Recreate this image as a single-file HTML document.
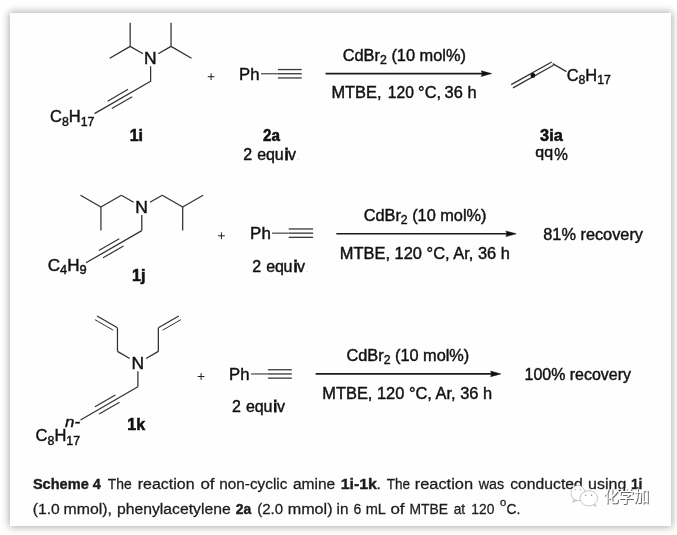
<!DOCTYPE html>
<html lang="en"><head><meta charset="utf-8"><title>Scheme 4</title>
<style>
html,body{margin:0;padding:0;background:#fff;}
body{width:677px;height:535px;overflow:hidden;position:relative;}
.card{position:absolute;left:10px;top:13px;width:661px;height:513px;background:#fefefe;box-shadow:0 0 8px 1px rgba(0,0,0,0.33);}
svg{position:absolute;left:0;top:0;font-family:'Liberation Sans', sans-serif;}
svg text{white-space:pre;}
</style></head>
<body>
<div class="card"></div>
<svg width="677" height="535" viewBox="0 0 677 535" style="filter:blur(0.5px)">
<line x1="130.16" y1="46.40" x2="130.16" y2="22.80" stroke="#303030" stroke-width="1.25"/>
<line x1="130.16" y1="46.40" x2="109.72" y2="58.20" stroke="#303030" stroke-width="1.25"/>
<line x1="130.16" y1="46.40" x2="143.00" y2="53.80" stroke="#303030" stroke-width="1.25"/>
<line x1="171.04" y1="46.40" x2="171.04" y2="22.80" stroke="#303030" stroke-width="1.25"/>
<line x1="171.04" y1="46.40" x2="191.48" y2="58.20" stroke="#303030" stroke-width="1.25"/>
<line x1="171.04" y1="46.40" x2="158.20" y2="53.80" stroke="#303030" stroke-width="1.25"/>
<text x="144.10" y="63.80" textLength="12.60" lengthAdjust="spacingAndGlyphs" style="font-size:16px;" fill="#111" stroke="#111" stroke-width="0.42" >N</text>
<line x1="150.60" y1="66.20" x2="150.60" y2="81.80" stroke="#303030" stroke-width="1.25"/>
<line x1="150.60" y1="81.20" x2="94.50" y2="113.59" stroke="#303030" stroke-width="1.25"/>
<line x1="128.06" y1="89.36" x2="107.62" y2="101.16" stroke="#333" stroke-width="1.15"/>
<line x1="132.26" y1="96.64" x2="111.82" y2="108.44" stroke="#333" stroke-width="1.15"/>
<text x="50.10" y="122.10" textLength="44.40" lengthAdjust="spacingAndGlyphs" style="font-size:16px;" fill="#111" stroke="#111" stroke-width="0.42" >C<tspan dy="4.0" style="font-size:12px">8</tspan><tspan dy="-4.0">H</tspan><tspan dy="4.0" style="font-size:12px">17</tspan></text>
<text x="129.70" y="141.10" textLength="13.40" lengthAdjust="spacingAndGlyphs" style="font-size:16px;font-weight:bold;" fill="#111" stroke="#111" stroke-width="0.55" >1i</text>
<line x1="207.70" y1="76.70" x2="214.50" y2="76.70" stroke="#222" stroke-width="1.0"/>
<line x1="211.10" y1="73.30" x2="211.10" y2="80.10" stroke="#222" stroke-width="1.0"/>
<text x="239.10" y="79.70" textLength="20.40" lengthAdjust="spacingAndGlyphs" style="font-size:16px;" fill="#111" stroke="#111" stroke-width="0.42" >Ph</text>
<line x1="261.00" y1="73.75" x2="277.90" y2="73.75" stroke="#3c3c3c" stroke-width="1.15"/>
<line x1="277.90" y1="73.75" x2="301.70" y2="73.75" stroke="#333" stroke-width="1.3"/>
<line x1="277.90" y1="69.55" x2="301.70" y2="69.55" stroke="#383838" stroke-width="1.3"/>
<line x1="277.90" y1="77.95" x2="301.70" y2="77.95" stroke="#383838" stroke-width="1.3"/>
<text x="263.10" y="141.00" textLength="16.90" lengthAdjust="spacingAndGlyphs" style="font-size:16px;font-weight:bold;" fill="#111" stroke="#111" stroke-width="0.55" >2a</text>
<text x="243.30 251.70 257.30 266.00 274.70 284.80 288.10" y="160.00" style="font-size:16px" fill="#111" stroke="#111" stroke-width="0.42">2 equ<tspan stroke-width="1.1">i</tspan>v</text>
<text x="296.90" y="160.00" style="font-size:9px" fill="#ccc">.</text>
<text x="342.70" y="60.60" textLength="123.30" lengthAdjust="spacingAndGlyphs" style="font-size:16px;" fill="#111" stroke="#111" stroke-width="0.42" >CdBr<tspan dy="3.0" style="font-size:12px">2</tspan><tspan dy="-3.0"> (10 mol%)</tspan></text>
<line x1="325.60" y1="73.60" x2="483.30" y2="73.60" stroke="#1a1a1a" stroke-width="1.6"/>
<path d="M491.60,73.60 L481.30,70.80 L482.30,73.60 L481.30,76.40 Z" fill="#111" stroke="#111" stroke-width="0.5" stroke-linejoin="round"/>
<text x="331.40" y="97.80" textLength="50.10" lengthAdjust="spacingAndGlyphs" style="font-size:16px;" fill="#111" stroke="#111" stroke-width="0.42" >MTBE,</text>
<text x="387.80" y="97.80" textLength="26.10" lengthAdjust="spacingAndGlyphs" style="font-size:16px;" fill="#111" stroke="#111" stroke-width="0.42" >120</text>
<text x="418.10" y="97.80" textLength="22.90" lengthAdjust="spacingAndGlyphs" style="font-size:16px;" fill="#111" stroke="#111" stroke-width="0.42" >°C,</text>
<text x="444.60" y="97.80" textLength="31.90" lengthAdjust="spacingAndGlyphs" style="font-size:16px;" fill="#111" stroke="#111" stroke-width="0.42" >36 h</text>
<line x1="511.20" y1="84.60" x2="551.70" y2="62.00" stroke="#303030" stroke-width="1.25"/>
<line x1="513.00" y1="87.90" x2="553.50" y2="65.30" stroke="#303030" stroke-width="1.25"/>
<circle cx="532.9" cy="75.5" r="2.4" fill="#111"/>
<line x1="552.60" y1="63.60" x2="566.50" y2="71.60" stroke="#303030" stroke-width="1.25"/>
<text x="566.70" y="80.60" textLength="44.20" lengthAdjust="spacingAndGlyphs" style="font-size:16px;" fill="#111" stroke="#111" stroke-width="0.42" >C<tspan dy="3.5" style="font-size:12px">8</tspan><tspan dy="-3.5">H</tspan><tspan dy="3.5" style="font-size:12px">17</tspan></text>
<text x="540.10" y="141.00" textLength="22.60" lengthAdjust="spacingAndGlyphs" style="font-size:16px;font-weight:bold;" fill="#111" stroke="#111" stroke-width="0.55" >3ia</text>
<text x="535.30" y="157.30" textLength="17.80" lengthAdjust="spacingAndGlyphs" style="font-size:14.4px;" fill="#111" stroke="#111" stroke-width="0.42" >qq</text>
<text x="554.30" y="160.30" textLength="13.60" lengthAdjust="spacingAndGlyphs" style="font-size:16px;" fill="#111" stroke="#111" stroke-width="0.42" >%</text>
<line x1="133.60" y1="202.30" x2="121.36" y2="195.20" stroke="#303030" stroke-width="1.25"/>
<line x1="121.36" y1="195.20" x2="100.92" y2="207.00" stroke="#303030" stroke-width="1.25"/>
<line x1="100.92" y1="207.00" x2="80.49" y2="195.20" stroke="#303030" stroke-width="1.25"/>
<line x1="100.92" y1="207.00" x2="100.92" y2="230.60" stroke="#303030" stroke-width="1.25"/>
<line x1="150.00" y1="202.30" x2="162.24" y2="195.20" stroke="#303030" stroke-width="1.25"/>
<line x1="162.24" y1="195.20" x2="182.68" y2="207.00" stroke="#303030" stroke-width="1.25"/>
<line x1="182.68" y1="207.00" x2="203.11" y2="195.20" stroke="#303030" stroke-width="1.25"/>
<line x1="182.68" y1="207.00" x2="182.68" y2="230.60" stroke="#303030" stroke-width="1.25"/>
<text x="135.30" y="212.70" textLength="12.60" lengthAdjust="spacingAndGlyphs" style="font-size:16px;" fill="#111" stroke="#111" stroke-width="0.42" >N</text>
<line x1="141.80" y1="215.00" x2="141.80" y2="230.60" stroke="#303030" stroke-width="1.25"/>
<line x1="141.80" y1="230.60" x2="86.00" y2="262.82" stroke="#303030" stroke-width="1.25"/>
<line x1="119.26" y1="238.76" x2="98.82" y2="250.56" stroke="#333" stroke-width="1.15"/>
<line x1="123.46" y1="246.04" x2="103.02" y2="257.84" stroke="#333" stroke-width="1.15"/>
<text x="47.80" y="270.50" textLength="38.90" lengthAdjust="spacingAndGlyphs" style="font-size:16px;" fill="#111" stroke="#111" stroke-width="0.42" >C<tspan dy="3.3" style="font-size:12px">4</tspan><tspan dy="-3.3">H</tspan><tspan dy="3.3" style="font-size:12px">9</tspan></text>
<text x="132.00" y="280.50" textLength="13.40" lengthAdjust="spacingAndGlyphs" style="font-size:16px;font-weight:bold;" fill="#111" stroke="#111" stroke-width="0.55" >1j</text>
<line x1="218.00" y1="235.80" x2="224.80" y2="235.80" stroke="#222" stroke-width="1.0"/>
<line x1="221.40" y1="232.40" x2="221.40" y2="239.20" stroke="#222" stroke-width="1.0"/>
<text x="250.10" y="239.10" textLength="20.70" lengthAdjust="spacingAndGlyphs" style="font-size:16px;" fill="#111" stroke="#111" stroke-width="0.42" >Ph</text>
<line x1="272.10" y1="233.15" x2="288.70" y2="233.15" stroke="#3c3c3c" stroke-width="1.15"/>
<line x1="288.70" y1="233.15" x2="313.10" y2="233.15" stroke="#333" stroke-width="1.3"/>
<line x1="288.70" y1="228.95" x2="313.10" y2="228.95" stroke="#383838" stroke-width="1.3"/>
<line x1="288.70" y1="237.35" x2="313.10" y2="237.35" stroke="#383838" stroke-width="1.3"/>
<text x="252.20 260.60 266.20 274.90 283.60 293.70 297.00" y="271.70" style="font-size:16px" fill="#111" stroke="#111" stroke-width="0.42">2 equ<tspan stroke-width="1.1">i</tspan>v</text>
<text x="305.80" y="271.70" style="font-size:9px" fill="#ccc">.</text>
<text x="363.70" y="221.40" textLength="122.80" lengthAdjust="spacingAndGlyphs" style="font-size:16px;" fill="#111" stroke="#111" stroke-width="0.42" >CdBr<tspan dy="3.0" style="font-size:12px">2</tspan><tspan dy="-3.0"> (10 mol%)</tspan></text>
<line x1="336.30" y1="233.80" x2="507.90" y2="233.80" stroke="#1a1a1a" stroke-width="1.6"/>
<path d="M516.20,233.80 L505.90,231.00 L506.90,233.80 L505.90,236.60 Z" fill="#111" stroke="#111" stroke-width="0.5" stroke-linejoin="round"/>
<text x="339.80" y="259.00" textLength="170.10" lengthAdjust="spacingAndGlyphs" style="font-size:16px;" fill="#111" stroke="#111" stroke-width="0.42" >MTBE, 120 °C, Ar, 36 h</text>
<text x="543.30" y="240.20" textLength="99.70" lengthAdjust="spacingAndGlyphs" style="font-size:16px;" fill="#111" stroke="#111" stroke-width="0.42" >81% recovery</text>
<line x1="129.70" y1="358.50" x2="117.46" y2="351.40" stroke="#303030" stroke-width="1.25"/>
<line x1="117.46" y1="351.40" x2="117.46" y2="327.80" stroke="#303030" stroke-width="1.25"/>
<line x1="117.46" y1="327.80" x2="97.02" y2="316.00" stroke="#303030" stroke-width="1.25"/>
<line x1="113.20" y1="330.19" x2="94.92" y2="319.64" stroke="#303030" stroke-width="1.0"/>
<line x1="146.10" y1="358.50" x2="158.34" y2="351.40" stroke="#303030" stroke-width="1.25"/>
<line x1="158.34" y1="351.40" x2="158.34" y2="327.80" stroke="#303030" stroke-width="1.25"/>
<line x1="158.34" y1="327.80" x2="178.78" y2="316.00" stroke="#303030" stroke-width="1.25"/>
<line x1="162.60" y1="330.19" x2="180.88" y2="319.64" stroke="#303030" stroke-width="1.0"/>
<text x="131.40" y="368.90" textLength="12.60" lengthAdjust="spacingAndGlyphs" style="font-size:16px;" fill="#111" stroke="#111" stroke-width="0.42" >N</text>
<line x1="137.90" y1="371.20" x2="137.90" y2="386.80" stroke="#303030" stroke-width="1.25"/>
<line x1="137.90" y1="386.80" x2="80.50" y2="419.94" stroke="#303030" stroke-width="1.25"/>
<line x1="115.36" y1="394.96" x2="94.92" y2="406.76" stroke="#333" stroke-width="1.15"/>
<line x1="119.56" y1="402.24" x2="99.12" y2="414.04" stroke="#333" stroke-width="1.15"/>
<text x="65.00" y="427.00" textLength="15.10" lengthAdjust="spacingAndGlyphs" style="font-size:15px;font-style:italic;" fill="#111" stroke="#111" stroke-width="0.42" >n-</text>
<text x="35.60" y="441.00" textLength="44.50" lengthAdjust="spacingAndGlyphs" style="font-size:16px;" fill="#111" stroke="#111" stroke-width="0.42" >C<tspan dy="3.8" style="font-size:12px">8</tspan><tspan dy="-3.8">H</tspan><tspan dy="3.8" style="font-size:12px">17</tspan></text>
<text x="127.30" y="430.20" textLength="17.80" lengthAdjust="spacingAndGlyphs" style="font-size:16px;font-weight:bold;" fill="#111" stroke="#111" stroke-width="0.55" >1k</text>
<line x1="197.70" y1="376.50" x2="204.50" y2="376.50" stroke="#222" stroke-width="1.0"/>
<line x1="201.10" y1="373.10" x2="201.10" y2="379.90" stroke="#222" stroke-width="1.0"/>
<text x="229.10" y="379.80" textLength="20.40" lengthAdjust="spacingAndGlyphs" style="font-size:16px;" fill="#111" stroke="#111" stroke-width="0.42" >Ph</text>
<line x1="251.10" y1="373.95" x2="267.90" y2="373.95" stroke="#3c3c3c" stroke-width="1.15"/>
<line x1="267.90" y1="373.95" x2="291.80" y2="373.95" stroke="#333" stroke-width="1.3"/>
<line x1="267.90" y1="369.75" x2="291.80" y2="369.75" stroke="#383838" stroke-width="1.3"/>
<line x1="267.90" y1="378.15" x2="291.80" y2="378.15" stroke="#383838" stroke-width="1.3"/>
<text x="232.10 240.50 246.10 254.80 263.50 273.60 276.90" y="412.20" style="font-size:16px" fill="#111" stroke="#111" stroke-width="0.42">2 equ<tspan stroke-width="1.1">i</tspan>v</text>
<text x="285.70" y="412.20" style="font-size:9px" fill="#ccc">.</text>
<text x="346.50" y="361.40" textLength="122.80" lengthAdjust="spacingAndGlyphs" style="font-size:16px;" fill="#111" stroke="#111" stroke-width="0.42" >CdBr<tspan dy="3.0" style="font-size:12px">2</tspan><tspan dy="-3.0"> (10 mol%)</tspan></text>
<line x1="315.60" y1="373.90" x2="492.60" y2="373.90" stroke="#1a1a1a" stroke-width="1.6"/>
<path d="M500.90,373.90 L490.60,371.10 L491.60,373.90 L490.60,376.70 Z" fill="#111" stroke="#111" stroke-width="0.5" stroke-linejoin="round"/>
<text x="322.30" y="399.10" textLength="169.80" lengthAdjust="spacingAndGlyphs" style="font-size:16px;" fill="#111" stroke="#111" stroke-width="0.42" >MTBE, 120 °C, Ar, 36 h</text>
<text x="524.50" y="379.80" textLength="106.50" lengthAdjust="spacingAndGlyphs" style="font-size:16px;" fill="#111" stroke="#111" stroke-width="0.42" >100% recovery</text>
<text x="32.92" y="489.30" textLength="67.96" lengthAdjust="spacingAndGlyphs" style="font-size:15.4px;font-weight:bold;" fill="#1c1c1c" stroke="#1c1c1c" stroke-width="0.4">Scheme 4</text>
<text x="107.82" y="489.30" textLength="23.98" lengthAdjust="spacingAndGlyphs" style="font-size:15.4px;" fill="#1c1c1c" stroke="#1c1c1c" stroke-width="0.28">The</text>
<text x="137.76" y="489.30" textLength="56.78" lengthAdjust="spacingAndGlyphs" style="font-size:15.4px;" fill="#1c1c1c" stroke="#1c1c1c" stroke-width="0.28">reaction</text>
<text x="200.43" y="489.30" textLength="14.13" lengthAdjust="spacingAndGlyphs" style="font-size:15.4px;" fill="#1c1c1c" stroke="#1c1c1c" stroke-width="0.28">of</text>
<text x="219.30" y="489.30" textLength="68.10" lengthAdjust="spacingAndGlyphs" style="font-size:15.4px;" fill="#1c1c1c" stroke="#1c1c1c" stroke-width="0.28">non-cyclic</text>
<text x="292.94" y="489.30" textLength="42.32" lengthAdjust="spacingAndGlyphs" style="font-size:15.4px;" fill="#1c1c1c" stroke="#1c1c1c" stroke-width="0.28">amine</text>
<text x="340.70" y="489.30" textLength="36.30" lengthAdjust="spacingAndGlyphs" style="font-size:15.4px;font-weight:bold;" fill="#1c1c1c" stroke="#1c1c1c" stroke-width="0.4">1i-1k</text>
<text x="376.60" y="489.30" textLength="4.30" lengthAdjust="spacingAndGlyphs" style="font-size:15.4px;" fill="#1c1c1c" stroke="#1c1c1c" stroke-width="0.28">.</text>
<text x="386.80" y="489.30" textLength="23.35" lengthAdjust="spacingAndGlyphs" style="font-size:15.4px;" fill="#1c1c1c" stroke="#1c1c1c" stroke-width="0.28">The</text>
<text x="414.66" y="489.30" textLength="58.46" lengthAdjust="spacingAndGlyphs" style="font-size:15.4px;" fill="#1c1c1c" stroke="#1c1c1c" stroke-width="0.28">reaction</text>
<text x="478.74" y="489.30" textLength="25.40" lengthAdjust="spacingAndGlyphs" style="font-size:15.4px;" fill="#1c1c1c" stroke="#1c1c1c" stroke-width="0.28">was</text>
<text x="510.24" y="489.30" textLength="72.54" lengthAdjust="spacingAndGlyphs" style="font-size:15.4px;" fill="#1c1c1c" stroke="#1c1c1c" stroke-width="0.28">conducted</text>
<text x="588.12" y="489.30" textLength="38.22" lengthAdjust="spacingAndGlyphs" style="font-size:15.4px;" fill="#1c1c1c" stroke="#1c1c1c" stroke-width="0.28">using</text>
<text x="630.89" y="489.30" textLength="11.56" lengthAdjust="spacingAndGlyphs" style="font-size:15.4px;font-weight:bold;" fill="#1c1c1c" stroke="#1c1c1c" stroke-width="0.4">1i</text>
<text x="32.84" y="513.70" textLength="27.00" lengthAdjust="spacingAndGlyphs" style="font-size:15.4px;" fill="#1c1c1c" stroke="#1c1c1c" stroke-width="0.28">(1.0</text>
<text x="63.62" y="513.70" textLength="48.34" lengthAdjust="spacingAndGlyphs" style="font-size:15.4px;" fill="#1c1c1c" stroke="#1c1c1c" stroke-width="0.28">mmol),</text>
<text x="116.98" y="513.70" textLength="113.78" lengthAdjust="spacingAndGlyphs" style="font-size:15.4px;" fill="#1c1c1c" stroke="#1c1c1c" stroke-width="0.28">phenylacetylene</text>
<text x="235.66" y="513.70" textLength="15.52" lengthAdjust="spacingAndGlyphs" style="font-size:15.4px;font-weight:bold;" fill="#1c1c1c" stroke="#1c1c1c" stroke-width="0.4">2a</text>
<text x="257.24" y="513.70" textLength="25.88" lengthAdjust="spacingAndGlyphs" style="font-size:15.4px;" fill="#1c1c1c" stroke="#1c1c1c" stroke-width="0.28">(2.0</text>
<text x="287.70" y="513.70" textLength="44.90" lengthAdjust="spacingAndGlyphs" style="font-size:15.4px;" fill="#1c1c1c" stroke="#1c1c1c" stroke-width="0.28">mmol)</text>
<text x="336.58" y="513.70" textLength="11.90" lengthAdjust="spacingAndGlyphs" style="font-size:15.4px;" fill="#1c1c1c" stroke="#1c1c1c" stroke-width="0.28">in</text>
<text x="353.42" y="513.70" textLength="7.78" lengthAdjust="spacingAndGlyphs" style="font-size:15.4px;" fill="#1c1c1c" stroke="#1c1c1c" stroke-width="0.28">6</text>
<text x="365.66" y="513.70" textLength="20.20" lengthAdjust="spacingAndGlyphs" style="font-size:15.4px;" fill="#1c1c1c" stroke="#1c1c1c" stroke-width="0.28">mL</text>
<text x="390.42" y="513.70" textLength="14.13" lengthAdjust="spacingAndGlyphs" style="font-size:15.4px;" fill="#1c1c1c" stroke="#1c1c1c" stroke-width="0.28">of</text>
<text x="409.53" y="513.70" textLength="38.49" lengthAdjust="spacingAndGlyphs" style="font-size:15.4px;" fill="#1c1c1c" stroke="#1c1c1c" stroke-width="0.28">MTBE</text>
<text x="453.66" y="513.70" textLength="11.52" lengthAdjust="spacingAndGlyphs" style="font-size:15.4px;" fill="#1c1c1c" stroke="#1c1c1c" stroke-width="0.28">at</text>
<text x="471.36" y="513.70" textLength="22.98" lengthAdjust="spacingAndGlyphs" style="font-size:15.4px;" fill="#1c1c1c" stroke="#1c1c1c" stroke-width="0.28">120</text>
<text x="500.10" y="505.80" textLength="6.30" lengthAdjust="spacingAndGlyphs" style="font-size:10px;" fill="#1c1c1c" stroke="#1c1c1c" stroke-width="0.28">o</text>
<text x="506.57" y="513.70" textLength="13.87" lengthAdjust="spacingAndGlyphs" style="font-size:15.4px;" fill="#1c1c1c" stroke="#1c1c1c" stroke-width="0.28">C.</text>

<g fill="#fff" stroke="#a5a5a5" stroke-width="0.6">
<path d="M573.6,499.6 L572.6,502.4 L576.6,500.6 Z" stroke-width="0.6"/>
<ellipse cx="578" cy="493" rx="7" ry="7.6"/>
<path d="M593.2,504.6 L596,506.6 L595,503.4 Z" stroke-width="0.6"/>
<ellipse cx="588.8" cy="498.3" rx="8.8" ry="7.6"/>
</g>
<g fill="#8a8a8a"><circle cx="585.6" cy="495.3" r="0.7"/><circle cx="591.6" cy="495.3" r="0.7"/><circle cx="575.2" cy="489.6" r="0.6"/><circle cx="580.4" cy="489.6" r="0.6"/></g>
<text x="603.2" y="502.1" textLength="46" lengthAdjust="spacingAndGlyphs" style="font-size:15.5px;font-family:'Liberation Sans','Noto Sans CJK SC',sans-serif;filter:drop-shadow(1.1px 1px 0px #6a6a6a)" fill="#fff">化学加</text>

</svg>
</body></html>
